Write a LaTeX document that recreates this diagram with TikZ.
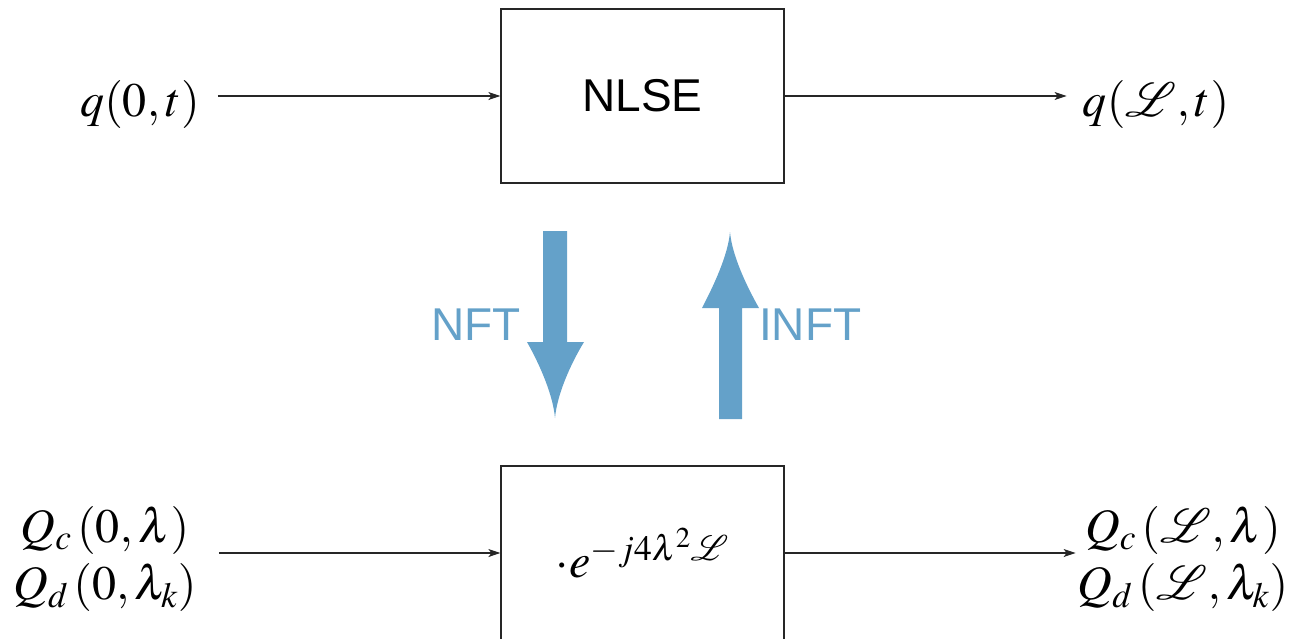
\documentclass[tikz,border=0pt]{standalone}
\usepackage{mathptmx}
\usepackage{mathrsfs}
\DeclareFontFamily{U}{rsfs}{\skewchar\font127 }
\DeclareFontShape{U}{rsfs}{m}{n}{<-> rsfs10}{}
\usepackage[no-math]{fontspec}
\newfontfamily\sansf{Liberation Sans}
\usetikzlibrary{arrows.meta}
\definecolor{nftblue}{RGB}{100,161,201}
\begin{document}
\begin{tikzpicture}[x=1pt,y=-1pt,
  box/.style={draw=black!85,line width=1.2pt,minimum width=283pt,minimum height=174pt,inner sep=0pt},
  lbl/.style={font=\fontsize{48}{57}\selectfont,inner sep=0pt,align=center},
  sig/.style={-{Stealth[length=12pt,width=8pt,inset=3pt]},line width=1.1pt,draw=black!85},
  bluearrow/.style={fill=nftblue,draw=none},
  side/.style={font=\sansf\fontsize{46}{54}\selectfont,text=nftblue,inner sep=0pt}
]
\useasboundingbox (0,0) rectangle (1302,638);
\clip (0,0) rectangle (1302,638);

% boxes
\node[box,font=\sansf\fontsize{46}{54}\selectfont] (nlse) at (642.5,96) {NLSE};
\node[box,lbl] (prop) at (642.5,553) {$\cdot e^{-j4\lambda^2\mathscr{L}}$};

% signal labels
\node[lbl] (q0) at (140,104) {$q(0,t)$};
\node[lbl] (qL) at (1156,104) {$q(\mathscr{L},t)$};
\node[lbl] (Q0) at (105,559) {$Q_c\left(0,\lambda\right)$\\$Q_d\left(0,\lambda_k\right)$};
\node[lbl] (QL) at (1183,559) {$Q_c\left(\mathscr{L},\lambda\right)$\\$Q_d\left(\mathscr{L},\lambda_k\right)$};

% connectors
\draw[sig] ([xshift=18pt]q0.east |- nlse.west) -- (nlse.west);
\draw[sig] (nlse.east) -- ([xshift=-16pt]qL.west |- nlse.east);
\draw[sig] ([xshift=22pt]Q0.east |- prop.west) -- (prop.west);
\draw[sig] (prop.east) -- ([xshift=-2pt]QL.west |- prop.east);

% NFT / INFT arrows
\fill[bluearrow] (543,231) -- (567,231) -- (567,342) -- (584,342)
  .. controls (570,365) and (557,395) .. (555,418)
  .. controls (553,395) and (540,365) .. (527,342) -- (543,342) -- cycle;
\fill[bluearrow] (719,419) -- (742,419) -- (742,308) -- (759,308)
  .. controls (746,285) and (732,255) .. (730,232)
  .. controls (728,255) and (714,285) .. (702,308) -- (719,308) -- cycle;
\node[side,anchor=east] (nft) at (521,325) {NFT};
\node[side,anchor=west] (inft) at (759,325) {INFT};
\end{tikzpicture}
\end{document}
